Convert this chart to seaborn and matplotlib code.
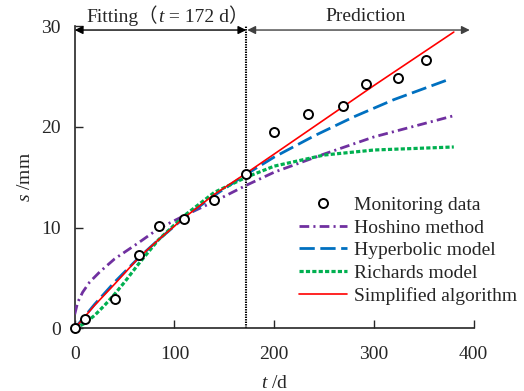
import numpy as np
import pandas as pd
import matplotlib
matplotlib.use("Agg")
import matplotlib.pyplot as plt
import seaborn as sns
from matplotlib.offsetbox import TextArea, HPacker, AnnotationBbox
from matplotlib.lines import Line2D

# ---------------- data ----------------
obs_t = [0, 10, 40, 64, 84, 110, 140, 172, 200, 234, 269, 292, 324, 352]
obs_s = [0.0, 0.9, 2.9, 7.3, 10.2, 10.9, 12.7, 15.3, 19.5, 21.3, 22.1, 24.2, 24.8, 26.6]

hoshino_t = [0, 3, 8, 15, 25, 40, 64, 84, 110, 140, 172, 200, 250, 300, 380]
hoshino_s = [1.4, 2.6, 3.6, 4.6, 5.6, 6.9, 8.5, 9.9, 11.2, 12.6, 14.2, 15.5, 17.3, 19.0, 21.1]

hyper_t = [0, 20, 40, 64, 84, 110, 140, 172, 200, 240, 280, 320, 375]
hyper_s = [0.0, 2.4, 4.6, 7.0, 8.8, 11.0, 13.2, 15.3, 17.0, 19.1, 21.0, 22.7, 24.7]

richards_t = [0, 10, 20, 30, 40, 50, 64, 84, 110, 140, 172, 200, 250, 300, 380]
richards_s = [0.0, 0.5, 1.3, 2.3, 3.4, 4.6, 6.4, 8.8, 11.2, 13.5, 15.0, 16.1, 17.2, 17.7, 18.0]

simple_t = [0, 20, 40, 64, 84, 110, 140, 172, 200, 250, 300, 380]
simple_s = [0.0, 2.3, 4.4, 7.0, 8.8, 11.0, 13.3, 15.4, 17.3, 20.7, 24.1, 29.4]

fit_end = 172
pred_end = 396
x_ticks = [0, 100, 200, 300, 400]
y_ticks = [0, 10, 20, 30]

labels = ["Monitoring data", "Hoshino method", "Hyperbolic model",
          "Richards model", "Simplified algorithm"]

# ---------------- style ----------------
sns.set_style("ticks")
FS = 14
plt.rcParams.update({
    "font.family": ["Liberation Serif", "Noto Sans CJK SC"],
    "font.size": FS,
    "mathtext.fontset": "custom",
    "mathtext.rm": "Liberation Serif",
    "mathtext.it": "Liberation Serif:italic",
    "lines.scale_dashes": False,
    "axes.linewidth": 1.2,
    "xtick.direction": "in",
    "ytick.direction": "in",
})

fig = plt.figure(figsize=(5.24, 3.91), dpi=100)
ax = fig.add_axes([0.1426, 0.16, 0.7615, 0.7735])

purple = "#7030A0"
blue = "#0070C0"
green = "#00B050"
red = "#FF0000"

d_h = pd.DataFrame({"t": hoshino_t, "s": hoshino_s})
d_y = pd.DataFrame({"t": hyper_t, "s": hyper_s})
d_r = pd.DataFrame({"t": richards_t, "s": richards_s})
d_s = pd.DataFrame({"t": simple_t, "s": simple_s})
d_o = pd.DataFrame({"t": obs_t, "s": obs_s})

sns.lineplot(data=d_h, x="t", y="s", ax=ax, color=purple, lw=2.0,
             linestyle=(0, (7, 3, 1.5, 3)), zorder=3)
sns.lineplot(data=d_y, x="t", y="s", ax=ax, color=blue, lw=2.0,
             linestyle=(0, (11, 4)), zorder=3)
sns.lineplot(data=d_r, x="t", y="s", ax=ax, color=green, lw=2.3,
             linestyle=(0, (3, 1.6)), zorder=3)
sns.lineplot(data=d_s, x="t", y="s", ax=ax, color=red, lw=1.2, zorder=4)
sns.scatterplot(data=d_o, x="t", y="s", ax=ax, marker="o", s=42,
                facecolor="white", edgecolor="black", linewidth=1.4,
                zorder=6, clip_on=False)

ax.axvline(fit_end, ymin=0, ymax=1, color="black", lw=1.5,
           linestyle=(0, (1, 0.8)), zorder=2)

ax.set_xlim(0, 400)
ax.set_ylim(0, 30)
ax.set_xticks(x_ticks)
ax.set_yticks(y_ticks)
ax.tick_params(length=5.5, width=1.0, labelsize=FS)
ax.tick_params(axis="x", pad=13)
ax.tick_params(axis="y", pad=10)
sns.despine(ax=ax)
ax.set_xlabel("$t$ /d", fontsize=FS, labelpad=8)
ax.set_ylabel("$s$ /mm", fontsize=FS, labelpad=5)

# arrows
ax.annotate("", xy=(0, 29.6), xytext=(fit_end, 29.6),
            arrowprops=dict(arrowstyle="<|-|>", color="black", lw=1.0,
                            mutation_scale=12, shrinkA=0, shrinkB=0),
            annotation_clip=False)
ax.annotate("", xy=(fit_end + 1, 29.6), xytext=(pred_end, 29.6),
            arrowprops=dict(arrowstyle="<|-|>", color="#404040", lw=1.0,
                            mutation_scale=12, shrinkA=0, shrinkB=0),
            annotation_clip=False)

tp = dict(family=["Liberation Serif", "Noto Sans CJK SC"], size=FS)
tpi = dict(family=["Liberation Serif"], style="italic", size=FS)
pack = HPacker(children=[TextArea("Fitting（", textprops=tp),
                         TextArea("t", textprops=tpi),
                         TextArea(" = 172 d）", textprops=tp)],
               align="baseline", pad=0, sep=0)
ab = AnnotationBbox(pack, (93, 30.0), xycoords="data", frameon=False,
                    box_alignment=(0.5, 0.0), pad=0, annotation_clip=False)
ax.add_artist(ab)
ax.text(292, 30.45, "Prediction", ha="center", va="baseline", fontsize=FS,
        clip_on=False)

# legend
handles = [
    Line2D([], [], marker="o", ls="none", markersize=6.5, markerfacecolor="white",
           markeredgecolor="black", markeredgewidth=1.4),
    Line2D([], [], color=purple, lw=2.0, linestyle=(0, (7, 3, 1.5, 3))),
    Line2D([], [], color=blue, lw=2.0, linestyle=(0, (11, 4))),
    Line2D([], [], color=green, lw=2.3, linestyle=(0, (3, 1.6))),
    Line2D([], [], color=red, lw=1.2),
]
ax.legend(handles, labels, loc="upper left", bbox_to_anchor=(0.562, 0.437),
          frameon=False, fontsize=FS, handlelength=2.45, handletextpad=0.4,
          labelspacing=0.26, borderpad=0, borderaxespad=0)

fig.savefig("out.png", dpi=100)
